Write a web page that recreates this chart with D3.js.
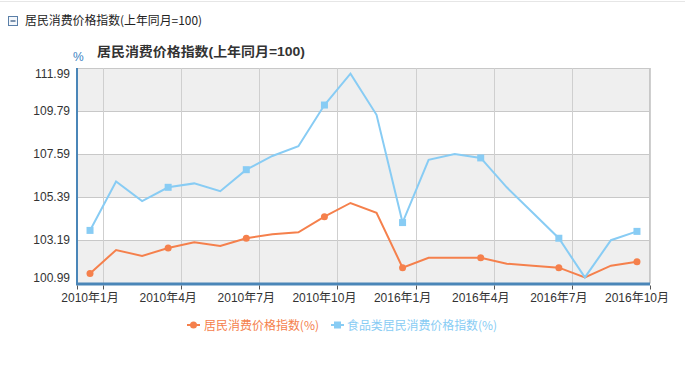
<!DOCTYPE html>
<html><head><meta charset="utf-8">
<script src="https://cdn.jsdelivr.net/npm/d3@7/dist/d3.min.js"></script>
<style>
html,body{margin:0;padding:0;background:#fff;}
svg{display:block;font-family:"Liberation Sans",Arial,"Noto Sans CJK SC",sans-serif;}
</style></head>
<body>
<svg id="chart" width="685" height="367"></svg>
<script>
const categories = ["2010年1月","2010年2月","2010年3月","2010年4月","2010年5月","2010年6月","2010年7月","2010年8月","2010年9月","2010年10月","2010年11月","2010年12月",
  "2016年1月","2016年2月","2016年3月","2016年4月","2016年5月","2016年6月","2016年7月","2016年8月","2016年9月","2016年10月"];
const cpi = [101.5,102.7,102.4,102.8,103.1,102.9,103.3,103.5,103.6,104.4,105.1,104.6,
  101.8,102.3,102.3,102.3,102.0,101.9,101.8,101.3,101.9,102.1];
const foodCpi = [103.7,106.2,105.2,105.9,106.1,105.7,106.8,107.5,108.0,110.1,111.7,109.6,
  104.1,107.3,107.6,107.4,105.9,104.6,103.3,101.3,103.2,103.65];
const yTicks = [100.99,103.19,105.39,107.59,109.79,111.99];
const seriesNames = ["居民消费价格指数(%)","食品类居民消费价格指数(%)"];
const headerText = "居民消费价格指数(上年同月=100)";
const titleText = "居民消费价格指数(上年同月=100)";
const unitText = "%";

const orange = "#f5804c", blue = "#88ccf4";
const svg = d3.select("#chart");
const L = 77, R = 650, T = 68, B = 283.5;
const cjk = '"Noto Sans CJK SC","Liberation Sans",sans-serif';

// header
svg.append("line").attr("x1",0).attr("x2",685).attr("y1",1.5).attr("y2",1.5).attr("stroke","#e6e6e6");
svg.append("rect").attr("x",8.5).attr("y",16.5).attr("width",9).attr("height",9).attr("fill","#f4f7fb").attr("stroke","#5a7fa8");
svg.append("line").attr("x1",10.5).attr("x2",15.5).attr("y1",21).attr("y2",21).attr("stroke","#2a4f7a").attr("stroke-width",1.2);
svg.append("text").attr("x",25).attr("y",25).attr("font-size",12).attr("font-family",cjk).attr("fill","#222")
  .attr("textLength",177).attr("lengthAdjust","spacingAndGlyphs").text(headerText);

const x = d3.scaleBand().domain(categories).range([L,R]);
const y = d3.scaleLinear().domain([yTicks[0], yTicks[yTicks.length-1]]).range([B,T]);

// alternating bands
for (let i=0;i<yTicks.length-1;i++){
  svg.append("rect").attr("x",L).attr("width",R-L)
    .attr("y",y(yTicks[i+1])).attr("height",y(yTicks[i])-y(yTicks[i+1]))
    .attr("fill", i%2===0 ? "#efefef" : "#ffffff");
}
// horizontal grid
svg.append("g").selectAll("line").data(yTicks).join("line")
  .attr("x1",L).attr("x2",R).attr("y1",d=>Math.round(y(d))+0.5).attr("y2",d=>Math.round(y(d))+0.5)
  .attr("stroke","#c8c8c8");
// vertical grid at category boundaries every 3
const boundaries = categories.map((c,i)=>i).filter(i=>i%3===0).map(i=>categories[i]);
svg.append("g").selectAll("line").data(boundaries).join("line")
  .attr("x1",d=>Math.round(x(d)+x.bandwidth())+0.5).attr("x2",d=>Math.round(x(d)+x.bandwidth())+0.5)
  .attr("y1",T).attr("y2",B).attr("stroke","#cfcfcf");
svg.append("line").attr("x1",R-0.5).attr("x2",R-0.5).attr("y1",T).attr("y2",B).attr("stroke","#c8c8c8");

// y labels
svg.append("g").selectAll("text").data(yTicks).join("text")
  .attr("x",70).attr("text-anchor","end").attr("font-size",12).attr("fill","#333")
  .attr("y",(d,i)=>{ let yy=y(d)+4; if(i===0) yy=y(d)-2; if(i===yTicks.length-1) yy=y(d)+10; return yy; })
  .text(d=>d.toFixed(2));

// axes lines
svg.append("line").attr("x1",L).attr("x2",L).attr("y1",T).attr("y2",B+1).attr("stroke","#4a86b8").attr("stroke-width",2);
svg.append("line").attr("x1",L-1).attr("x2",R).attr("y1",B+0.5).attr("y2",B+0.5).attr("stroke","#4a86b8").attr("stroke-width",3);
// ticks
svg.append("g").selectAll("line").data(boundaries).join("line")
  .attr("x1",d=>Math.round(x(d)+x.bandwidth())+0.5).attr("x2",d=>Math.round(x(d)+x.bandwidth())+0.5)
  .attr("y1",B+2).attr("y2",B+6).attr("stroke","#555");
svg.append("line").attr("x1",L+0.5).attr("x2",L+0.5).attr("y1",B+2).attr("y2",B+6).attr("stroke","#555");
// x labels
svg.append("g").selectAll("text").data(boundaries).join("text")
  .attr("x",d=>x(d)+x.bandwidth()/2).attr("y",302).attr("text-anchor","middle")
  .attr("font-size",12).attr("fill","#333").text(d=>d);

// title
svg.append("text").attr("x",73).attr("y",61).attr("font-size",12).attr("fill","#3a7fc1").text(unitText);
svg.append("text").attr("x",97).attr("y",56).attr("font-size",13).attr("font-weight","bold").attr("fill","#333")
  .attr("textLength",208).attr("lengthAdjust","spacingAndGlyphs").text(titleText);

// lines
const cx = d => x(d)+x.bandwidth()/2;
const line = vals => d3.line().x((d,i)=>cx(categories[i])).y(d=>y(d))(vals);
svg.append("path").attr("d",line(cpi)).attr("fill","none").attr("stroke",orange).attr("stroke-width",2);
svg.append("path").attr("d",line(foodCpi)).attr("fill","none").attr("stroke",blue).attr("stroke-width",2);
const markIdx = cpi.map((d,i)=>i).filter(i=>i%3===0);
svg.append("g").selectAll("circle").data(markIdx).join("circle")
  .attr("cx",i=>cx(categories[i])).attr("cy",i=>y(cpi[i])).attr("r",3.5).attr("fill",orange);
svg.append("g").selectAll("rect").data(markIdx).join("rect")
  .attr("x",i=>cx(categories[i])-3.5).attr("y",i=>y(foodCpi[i])-3.5).attr("width",7).attr("height",7).attr("fill",blue);

// legend
const lg = svg.append("g");
lg.append("line").attr("x1",187).attr("x2",200).attr("y1",325).attr("y2",325).attr("stroke",orange).attr("stroke-width",2);
lg.append("circle").attr("cx",193.5).attr("cy",325).attr("r",3.5).attr("fill",orange);
lg.append("text").attr("x",204).attr("y",329.5).attr("font-size",12).attr("font-family",cjk).attr("fill",orange)
  .attr("textLength",115).attr("lengthAdjust","spacingAndGlyphs").text(seriesNames[0]);
lg.append("line").attr("x1",331).attr("x2",344).attr("y1",325).attr("y2",325).attr("stroke",blue).attr("stroke-width",2);
lg.append("rect").attr("x",334).attr("y",321.5).attr("width",7).attr("height",7).attr("fill",blue);
lg.append("text").attr("x",347).attr("y",329.5).attr("font-size",12).attr("font-family",cjk).attr("fill",blue)
  .attr("textLength",150).attr("lengthAdjust","spacingAndGlyphs").text(seriesNames[1]);
</script>
</body></html>
